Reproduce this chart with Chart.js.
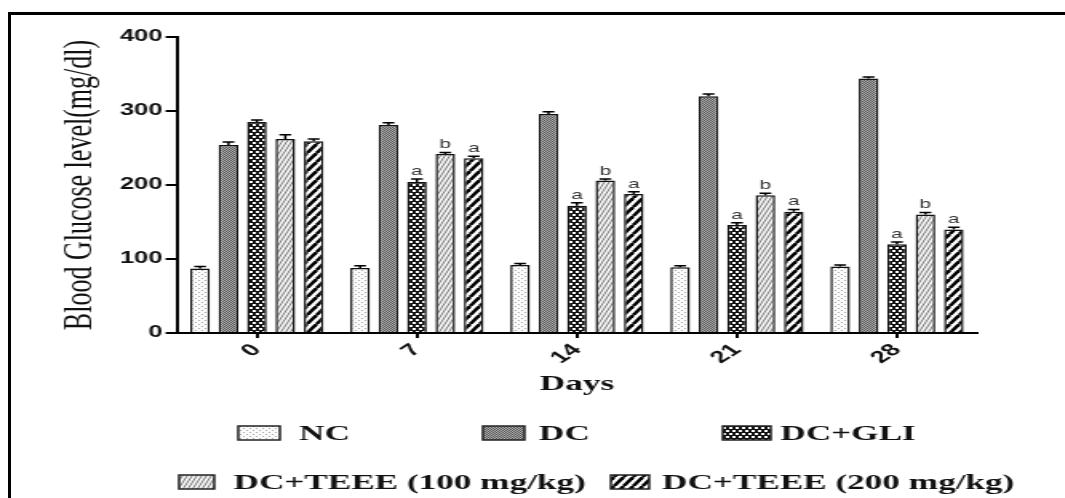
<!DOCTYPE html>
<html>
<head>
<meta charset="utf-8">
<script src="https://cdn.jsdelivr.net/npm/chart.js@4.4.1/dist/chart.umd.min.js"></script>
<style>
    html, body { margin: 0; padding: 0; background: #fff; overflow: hidden; width: 1065px; height: 498px; }
    #frame { position: absolute; left: 8px; top: 12px; width: 1100px; height: 600px; border: 3px solid #000; }
    #wrap { position: absolute; left: 0; top: 0; width: 666px; height: 498px; transform: scaleX(1.599); transform-origin: 0 0; }
</style>
</head>
<body>
<div id="frame"></div>
<div id="wrap"><canvas id="chartGlucose" width="666" height="498"></canvas></div>
<script>
'use strict';

// days on the x axis
const DAYS = ['0', '7', '14', '21', '28'];
const GROUPS = ['NC', 'DC', 'DC+GLI', 'DC+TEEE (100 mg/kg)', 'DC+TEEE (200 mg/kg)'];

// mean blood glucose (mg/dl)
const nc = [87, 88, 92, 89, 90];
const dc = [254, 281, 296, 320, 344];
const dcGli = [285, 204, 172, 146, 120];
const teee100 = [262, 242, 206, 186, 160];
const teee200 = [259, 236, 188, 164, 140];

// error (SEM) per bar
const ncErr = [3, 3, 2, 2, 2];
const dcErr = [4, 3, 3, 3, 2];
const gliErr = [3, 4, 4, 3, 3];
const teee100Err = [6, 2, 2, 3, 3];
const teee200Err = [3, 3, 3, 3, 3];

// significance letters
const ncSig = ['', '', '', '', ''];
const dcSig = ['', '', '', '', ''];
const gliSig = ['', 'a', 'a', 'a', 'a'];
const teee100Sig = ['', 'b', 'b', 'b', 'b'];
const teee200Sig = ['', 'a', 'a', 'a', 'a'];

const Y_TICKS = [0, 100, 200, 300, 400];

function makePattern(w, h, draw) {
    const c = document.createElement('canvas');
    c.width = w;
    c.height = h;
    const g = c.getContext('2d');
    draw(g, w, h);
    return g.createPattern(c, 'repeat');
}

function stripes(w, h, color, lw, bg) {
    return makePattern(w, h, function (g) {
        g.fillStyle = bg;
        g.fillRect(0, 0, w, h);
        g.strokeStyle = color;
        g.lineWidth = lw;
        for (let k = -1; k <= 1; k++) {
            g.beginPath();
            g.moveTo(k * w, h);
            g.lineTo(k * w + w, 0);
            g.stroke();
        }
    });
}

const patNC = makePattern(4, 4, function (g) {
    g.fillStyle = '#fafafa';
    g.fillRect(0, 0, 4, 4);
    g.fillStyle = '#a8a8a8';
    g.fillRect(0, 0, 1, 1);
    g.fillRect(2, 2, 1, 1);
});
const patDC = makePattern(2, 2, function (g) {
    g.fillStyle = '#b0b0b0';
    g.fillRect(0, 0, 2, 2);
    g.fillStyle = '#555';
    g.fillRect(0, 0, 1, 1);
    g.fillRect(1, 1, 1, 1);
});
const patGLI = makePattern(4, 6, function (g) {
    g.fillStyle = '#111';
    g.fillRect(0, 0, 4, 6);
    g.fillStyle = '#fff';
    g.fillRect(0, 1, 2, 2);
    g.fillRect(2, 4, 2, 2);
});
const pat100 = stripes(3, 7, '#7a7a7a', 1, '#f4f4f4');
const pat200 = stripes(6, 9, '#000', 2.6, '#fff');

const PATTERNS = [patNC, patDC, patGLI, pat100, pat200];
const VALUES = [nc, dc, dcGli, teee100, teee200];
const ERRORS = [ncErr, dcErr, gliErr, teee100Err, teee200Err];
const SIGS = [ncSig, dcSig, gliSig, teee100Sig, teee200Sig];

// legend item placement (canvas units)
const LEGEND_POS = [
    { bx: 149, by: 433, bw: 26, tx: 187 },
    { bx: 302, by: 433, bw: 26, tx: 337 },
    { bx: 452, by: 433, bw: 30, tx: 488 },
    { bx: 112, by: 482, bw: 22, tx: 146 },
    { bx: 382, by: 482, bw: 24, tx: 414 }
];

const errorBars = {
    id: 'errorBars',
    afterDatasetsDraw(chart) {
        const ctx = chart.ctx;
        const yScale = chart.scales.y;
        ctx.save();
        chart.data.datasets.forEach(function (ds, i) {
            const meta = chart.getDatasetMeta(i);
            meta.data.forEach(function (bar, j) {
                const top = yScale.getPixelForValue(ds.data[j] + ds.errors[j]);
                const half = bar.width * 0.3;
                ctx.strokeStyle = '#000';
                ctx.lineWidth = 1.5;
                ctx.beginPath();
                ctx.moveTo(bar.x, bar.y);
                ctx.lineTo(bar.x, top);
                ctx.moveTo(bar.x - half, top);
                ctx.lineTo(bar.x + half, top);
                ctx.stroke();
                if (ds.sig[j]) {
                    ctx.fillStyle = '#333';
                    ctx.font = '13px "Liberation Sans", Arial, sans-serif';
                    ctx.textAlign = 'center';
                    ctx.textBaseline = 'alphabetic';
                    ctx.fillText(ds.sig[j], bar.x, top - 4);
                }
            });
        });
        ctx.restore();
    }
};

const patternLegend = {
    id: 'patternLegend',
    afterDraw(chart) {
        const ctx = chart.ctx;
        ctx.save();
        chart.data.datasets.forEach(function (ds, i) {
            const p = LEGEND_POS[i];
            ctx.fillStyle = ds.backgroundColor;
            ctx.fillRect(p.bx, p.by - 7, p.bw, 14);
            ctx.strokeStyle = '#222';
            ctx.lineWidth = 1.5;
            ctx.strokeRect(p.bx, p.by - 7, p.bw, 14);
            ctx.fillStyle = '#111';
            ctx.font = 'bold 22px "Liberation Serif", "Times New Roman", serif';
            ctx.textAlign = 'left';
            ctx.textBaseline = 'middle';
            ctx.fillText(ds.label, p.tx, p.by + 1);
        });
        ctx.restore();
    }
};

const data = {
    labels: DAYS,
    datasets: GROUPS.map(function (name, i) {
        return {
            label: name,
            data: VALUES[i],
            errors: ERRORS[i],
            sig: SIGS[i],
            backgroundColor: PATTERNS[i],
            borderColor: '#111',
            borderWidth: 1.5,
            categoryPercentage: 0.8875,
            barPercentage: 0.69
        };
    })
};

const config = {
    type: 'bar',
    data,
    plugins: [errorBars, patternLegend],
    options: {
        responsive: false,
        animation: false,
        devicePixelRatio: 1,
        layout: { padding: { left: 35, right: 55, top: 37, bottom: 100 } },
        plugins: {
            legend: { display: false },
            tooltip: { enabled: false }
        },
        scales: {
            x: {
                afterFit: function (s) { s.height = 65; },
                border: { color: '#000', width: 2 },
                grid: { display: true, drawOnChartArea: false, offset: false, tickLength: 5, color: '#000', lineWidth: 2 },
                ticks: {
                    color: '#111',
                    maxRotation: 45,
                    minRotation: 45,
                    padding: 2,
                    font: { family: '"Liberation Sans", Arial, sans-serif', size: 17, weight: 'bold' }
                },
                title: {
                    display: true,
                    text: 'Days',
                    color: '#111',
                    padding: 0,
                    font: { family: '"Liberation Serif", "Times New Roman", serif', size: 22, weight: 'bold' }
                }
            },
            y: {
                min: 0,
                max: 400,
                afterFit: function (s) { s.width = 75.6; },
                afterBuildTicks: function (s) { s.ticks = Y_TICKS.map(function (v) { return { value: v }; }); },
                border: { color: '#000', width: 2 },
                grid: { display: true, drawOnChartArea: false, tickLength: 7, color: '#000', lineWidth: 2 },
                ticks: {
                    color: '#111',
                    padding: 2,
                    font: { family: '"Liberation Sans", Arial, sans-serif', size: 16, weight: 'bold' }
                },
                title: {
                    display: true,
                    text: 'Blood Glucose level(mg/dl)',
                    color: '#111',
                    padding: 0,
                    font: { family: '"Liberation Serif", "Times New Roman", serif', size: 26 }
                }
            }
        }
    }
};

const chartGlucose = new Chart(document.getElementById('chartGlucose'), config);
</script>
</body>
</html>
